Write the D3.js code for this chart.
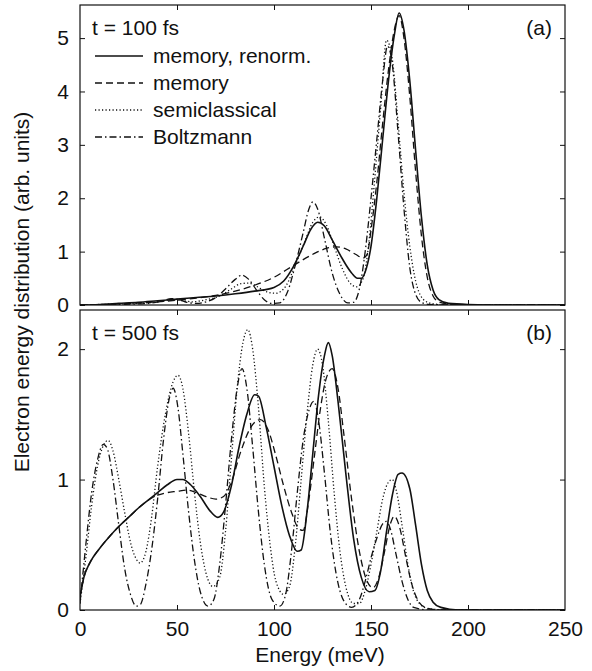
<!DOCTYPE html>
<html>
<head>
<meta charset="utf-8">
<script src="https://cdn.jsdelivr.net/npm/d3@7"></script>
<style>
  body { margin: 0; background: #fff; }
  svg text { font-family: "Liberation Sans", Arial, Helvetica, sans-serif; fill: #111; }
</style>
</head>
<body>
<svg class="chart"></svg>
<script>
// energy axis + two panels, t = 100 fs and t = 500 fs

var energyTicks = [0, 50, 100, 150, 200, 250];
var topTicks = [0, 1, 2, 3, 4, 5];
var bottomTicks = [0, 1, 2];
var seriesNames = ["memory, renorm.", "memory", "semiclassical", "Boltzmann"];

// panel (a), t = 100 fs : [energy meV, value]
var aRenorm = [[0,0],[10,0.01],[20,0.03],[30,0.05],[40,0.08],[50,0.11],[60,0.14],[70,0.17],[80,0.21],[90,0.26],[100,0.33],[105,0.45],[110,0.72],[115,1.1],[119,1.42],[122.5,1.55],[126,1.48],[130,1.22],[135,0.88],[140,0.6],[143,0.5],[145,0.5],[147,0.62],[150,1.1],[153,2.0],[156,3.1],[159,4.2],[162,5.05],[164.5,5.47],[167,5.15],[170,4.2],[173,2.9],[176,1.65],[179,0.75],[182,0.28],[185,0.1],[190,0.03],[200,0.01],[220,0],[250,0]];
var aMemory = [[0,0],[20,0.02],[40,0.06],[50,0.09],[60,0.13],[70,0.18],[80,0.26],[90,0.37],[100,0.52],[110,0.74],[120,0.95],[127,1.06],[132,1.09],[137,1.05],[142,0.95],[146,0.88],[148,0.95],[150,1.4],[153,2.3],[156,3.4],[159,4.4],[162,5.15],[164.5,5.42],[167,5.0],[170,3.9],[173,2.5],[176,1.3],[179,0.52],[182,0.17],[185,0.06],[190,0.02],[200,0],[250,0]];
var aSemi = [[0,0],[20,0.02],[35,0.04],[42,0.07],[48,0.1],[53,0.08],[58,0.06],[65,0.1],[72,0.17],[78,0.3],[83,0.4],[87,0.41],[91,0.35],[96,0.25],[101,0.22],[106,0.35],[111,0.75],[116,1.2],[120,1.55],[123.5,1.65],[127,1.5],[131,1.1],[135,0.7],[139,0.42],[142.5,0.34],[146,0.5],[149,1.2],[152,2.4],[155,3.7],[158,4.96],[161,4.6],[164,3.4],[167,2.1],[170,1.1],[173,0.45],[176,0.15],[180,0.04],[185,0.01],[200,0],[250,0]];
var aBoltz = [[0,0],[20,0.01],[35,0.03],[42,0.07],[47,0.12],[51,0.1],[55,0.05],[60,0.03],[65,0.06],[70,0.14],[75,0.3],[80,0.48],[83.5,0.56],[87,0.48],[91,0.28],[95,0.1],[99,0.03],[103,0.04],[107,0.25],[111,0.75],[115,1.35],[118,1.8],[120,1.93],[122.5,1.8],[126,1.25],[130,0.6],[134,0.2],[138,0.04],[141,0.05],[144,0.3],[147,1.0],[150,2.0],[153,3.1],[156,4.2],[158.5,4.85],[161,4.5],[164,3.2],[167,1.8],[170,0.7],[173,0.2],[176,0.05],[180,0.01],[200,0],[250,0]];

// panel (b), t = 500 fs
var bRenorm = [[0,0.1],[2,0.25],[5,0.36],[10,0.47],[15,0.56],[20,0.64],[25,0.71],[30,0.78],[35,0.84],[40,0.9],[45,0.96],[50,1.0],[53,1.0],[57,0.96],[62,0.87],[67,0.76],[71,0.71],[74,0.75],[78,0.95],[82,1.25],[86,1.5],[90,1.65],[92,1.64],[96,1.4],[100,1.1],[104,0.8],[108,0.57],[112,0.45],[114,0.46],[117,0.75],[120,1.2],[123,1.65],[126,1.95],[128,2.05],[130,1.95],[133,1.6],[137,1.05],[141,0.55],[145,0.25],[149,0.14],[152,0.15],[155,0.3],[158,0.6],[161,0.88],[164,1.04],[166,1.05],[170,0.93],[173,0.65],[176,0.35],[179,0.15],[182,0.06],[186,0.02],[195,0],[250,0]];
var bMemory = [[0,0.1],[2,0.25],[5,0.36],[10,0.47],[15,0.56],[20,0.64],[25,0.71],[30,0.78],[35,0.84],[40,0.88],[45,0.9],[50,0.91],[55,0.92],[60,0.9],[65,0.87],[70,0.85],[74,0.87],[78,0.98],[83,1.22],[88,1.4],[93,1.46],[97,1.38],[101,1.18],[105,0.95],[109,0.75],[113,0.62],[115,0.61],[118,0.85],[121,1.2],[124,1.55],[127,1.78],[130,1.85],[133,1.7],[136,1.35],[140,0.85],[144,0.45],[148,0.22],[151,0.17],[154,0.25],[157,0.45],[160,0.66],[162,0.72],[165,0.62],[168,0.4],[171,0.2],[174,0.08],[178,0.02],[185,0],[250,0]];
var bSemi = [[0,0.05],[3,0.4],[6,0.8],[9,1.1],[12,1.26],[14.5,1.3],[17,1.22],[20,1.0],[23,0.75],[26,0.52],[29,0.39],[31,0.36],[34,0.45],[37,0.72],[40,1.1],[44,1.5],[48,1.75],[50.5,1.8],[53,1.7],[56,1.35],[59,0.9],[62,0.52],[65,0.28],[68.5,0.18],[72,0.25],[75,0.6],[78,1.15],[81,1.7],[84,2.05],[86.5,2.15],[89,2.0],[92,1.55],[95,0.95],[98,0.5],[101,0.22],[105,0.12],[108,0.18],[111,0.5],[114,1.0],[117,1.5],[120,1.88],[122.5,2.0],[125,1.88],[128,1.45],[131,0.9],[134,0.45],[137,0.18],[141,0.05],[144,0.05],[147,0.15],[150,0.35],[153,0.6],[156,0.85],[159,0.98],[161,1.0],[163,0.92],[166,0.65],[169,0.35],[172,0.14],[175,0.05],[180,0.01],[190,0],[250,0]];
var bBoltz = [[0,0.05],[3,0.5],[6,0.9],[9,1.15],[12,1.27],[14,1.24],[17,1.0],[20,0.65],[23,0.32],[26,0.12],[29,0.03],[31,0.04],[34,0.2],[37,0.47],[40,0.85],[43,1.3],[46,1.62],[48,1.7],[50.5,1.55],[53,1.2],[56,0.75],[59,0.38],[62,0.14],[66,0.03],[69,0.08],[72,0.35],[75,0.8],[78,1.3],[81,1.7],[83.5,1.85],[86,1.7],[89,1.25],[92,0.75],[95,0.35],[99,0.08],[103,0.03],[106,0.12],[109,0.45],[112,0.9],[115,1.3],[118,1.53],[120.5,1.6],[123,1.45],[126,1.05],[129,0.6],[132,0.28],[136,0.07],[140,0.02],[144,0.08],[147,0.22],[150,0.4],[153,0.55],[156,0.66],[158,0.68],[160,0.62],[163,0.42],[166,0.22],[169,0.08],[172,0.02],[180,0],[250,0]];

var ui = {
  left: 80, right: 565,
  font: 21,
  stroke: "#111",
  dashes: [null, "7,4", "1.2,2.3", "7,3,1.5,3"]
}

var svg = d3.select(".chart")
  .attr("width", 592)
  .attr("height", 671);

var x = d3.scaleLinear().domain([0, 250]).range([ui.left, ui.right]);

function drawPanel(id, top, bottom, ymax, ticks, series, title, tag, showX) {
  var y = d3.scaleLinear().domain([0, ymax]).range([bottom, top]);
  var g = svg.append("g").attr("class", "panel-" + id);

  g.append("clipPath").attr("id", "clip-" + id)
    .append("rect")
    .attr("x", ui.left).attr("y", top)
    .attr("width", ui.right - ui.left).attr("height", bottom - top);

  var line = d3.line()
    .x(function(d) { return x(d[0]) })
    .y(function(d) { return y(d[1]) })
    .curve(d3.curveMonotoneX);

  g.append("g").attr("clip-path", "url(#clip-" + id + ")")
    .selectAll("path")
    .data(series)
    .enter().append("path")
    .attr("d", function(d) { return line(d) })
    .attr("fill", "none")
    .attr("stroke", ui.stroke)
    .attr("stroke-width", function(d, i) { return i == 0 ? 1.6 : 1.3 })
    .attr("stroke-dasharray", function(d, i) { return ui.dashes[i] });

  // axes, ticks pointing inward
  g.append("g")
    .attr("transform", "translate(" + ui.left + ",0)")
    .call(d3.axisLeft(y).tickValues(ticks).tickSize(-5).tickPadding(11).tickFormat(d3.format("d")));
  g.append("g")
    .attr("transform", "translate(" + ui.right + ",0)")
    .call(d3.axisRight(y).tickValues(ticks).tickSize(-5).tickFormat(""));
  g.append("g")
    .attr("transform", "translate(0," + top + ")")
    .call(d3.axisTop(x).tickValues(energyTicks.slice(1, -1)).tickSize(-5).tickFormat(""));
  var bot = g.append("g")
    .attr("transform", "translate(0," + bottom + ")")
    .call(d3.axisBottom(x).tickValues(showX ? energyTicks : energyTicks.slice(1, -1)).tickSize(-5).tickPadding(11)
      .tickFormat(showX ? d3.format("d") : ""));
  if (showX) bot.selectAll(".tick line").filter(function(d) { return d == 0 || d == 250 }).remove();

  g.selectAll(".domain").remove();
  g.selectAll(".tick line").attr("stroke", ui.stroke);
  g.selectAll(".tick text").style("font-size", ui.font + "px").style("font-family", null);

  g.append("rect")
    .attr("x", ui.left).attr("y", top)
    .attr("width", ui.right - ui.left).attr("height", bottom - top)
    .attr("fill", "none").attr("stroke", ui.stroke).attr("stroke-width", 1.2);

  g.append("text").attr("x", ui.left + 12).attr("y", top + 30)
    .style("font-size", ui.font + "px").text(title);
  g.append("text").attr("x", ui.right - 13).attr("y", top + 30)
    .attr("text-anchor", "end")
    .style("font-size", ui.font + "px").text(tag);
  return y;
}

drawPanel("a", 5, 305, 5.62, topTicks, [aRenorm, aMemory, aSemi, aBoltz], "t = 100 fs", "(a)", false);
drawPanel("b", 310, 610, 2.3, bottomTicks, [bRenorm, bMemory, bSemi, bBoltz], "t = 500 fs", "(b)", true);

// legend in panel (a)
var legend = svg.append("g").selectAll("g")
  .data(seriesNames)
  .enter().append("g")
  .attr("transform", function(d, i) { return "translate(95," + (56 + i * 27) + ")" });

legend.append("line")
  .attr("x1", 0).attr("x2", 48)
  .attr("stroke", ui.stroke)
  .attr("stroke-width", function(d, i) { return i == 0 ? 1.6 : 1.3 })
  .attr("stroke-dasharray", function(d, i) { return ui.dashes[i] });

legend.append("text")
  .attr("x", 58).attr("dy", "0.35em")
  .style("font-size", ui.font + "px")
  .text(function(d) { return d });

svg.append("text")
  .attr("x", 320).attr("y", 662)
  .attr("text-anchor", "middle")
  .style("font-size", ui.font + "px")
  .text("Energy (meV)");

svg.append("text")
  .attr("transform", "translate(29,292) rotate(-90)")
  .attr("text-anchor", "middle")
  .style("font-size", ui.font + "px")
  .text("Electron energy distribution (arb. units)");
</script>
</body>
</html>
